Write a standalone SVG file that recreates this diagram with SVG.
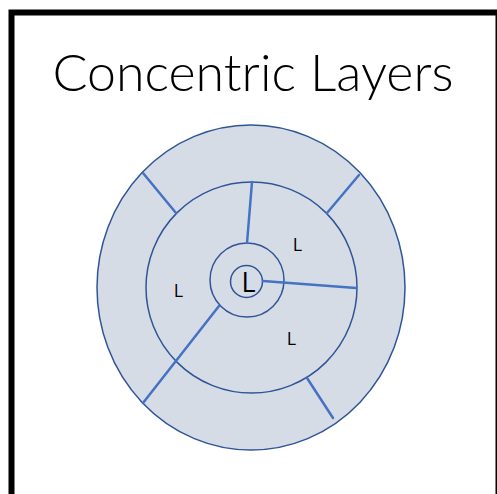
<svg xmlns="http://www.w3.org/2000/svg" width="497" height="494" viewBox="0 0 497 494">
<style>
.ring{fill:#D6DCE5;stroke:#2F5597;stroke-width:1.5}
.conn{stroke:#4472C4;stroke-width:2.5;stroke-linecap:round;fill:none}
.lbl{font-family:"Open Sans","Liberation Sans",sans-serif;fill:#000;text-anchor:middle}
</style>
<rect x="0" y="0" width="497" height="494" fill="#fff"/>
<rect id="frame" x="11.5" y="12.5" width="487" height="500" fill="none" stroke="#000" stroke-width="6"/>
<text id="title" x="253" y="91" font-family="Lato,'Open Sans','Liberation Sans',sans-serif" font-weight="300" font-size="52" textLength="401" lengthAdjust="spacingAndGlyphs" text-anchor="middle" fill="#000">Concentric Layers</text>
<g id="outer"><ellipse class="ring" cx="251" cy="287.5" rx="154" ry="162.5"/></g>
<g id="middle"><circle class="ring" cx="251.5" cy="287.5" r="105.5"/></g>
<g id="inner"><circle class="ring" cx="247" cy="280" r="37"/></g>
<g id="core"><circle class="ring" cx="246.5" cy="281.5" r="16"/><text class="lbl" x="248.5" y="291.5" font-size="27">L</text></g>
<g id="connectors">
<line class="conn" x1="252" y1="182" x2="247" y2="243"/>
<line class="conn" x1="263" y1="281" x2="356" y2="288"/>
<line class="conn" x1="219" y1="306" x2="143" y2="403"/>
<line class="conn" x1="143" y1="173" x2="176" y2="213"/>
<line class="conn" x1="359" y1="175" x2="327" y2="213"/>
<line class="conn" x1="307" y1="378" x2="333" y2="418"/>
</g>
<g id="labels">
<text class="lbl" x="297.5" y="250.5" font-size="18">L</text>
<text class="lbl" x="178.5" y="297" font-size="18">L</text>
<text class="lbl" x="291.5" y="345" font-size="18">L</text>
</g>
</svg>
